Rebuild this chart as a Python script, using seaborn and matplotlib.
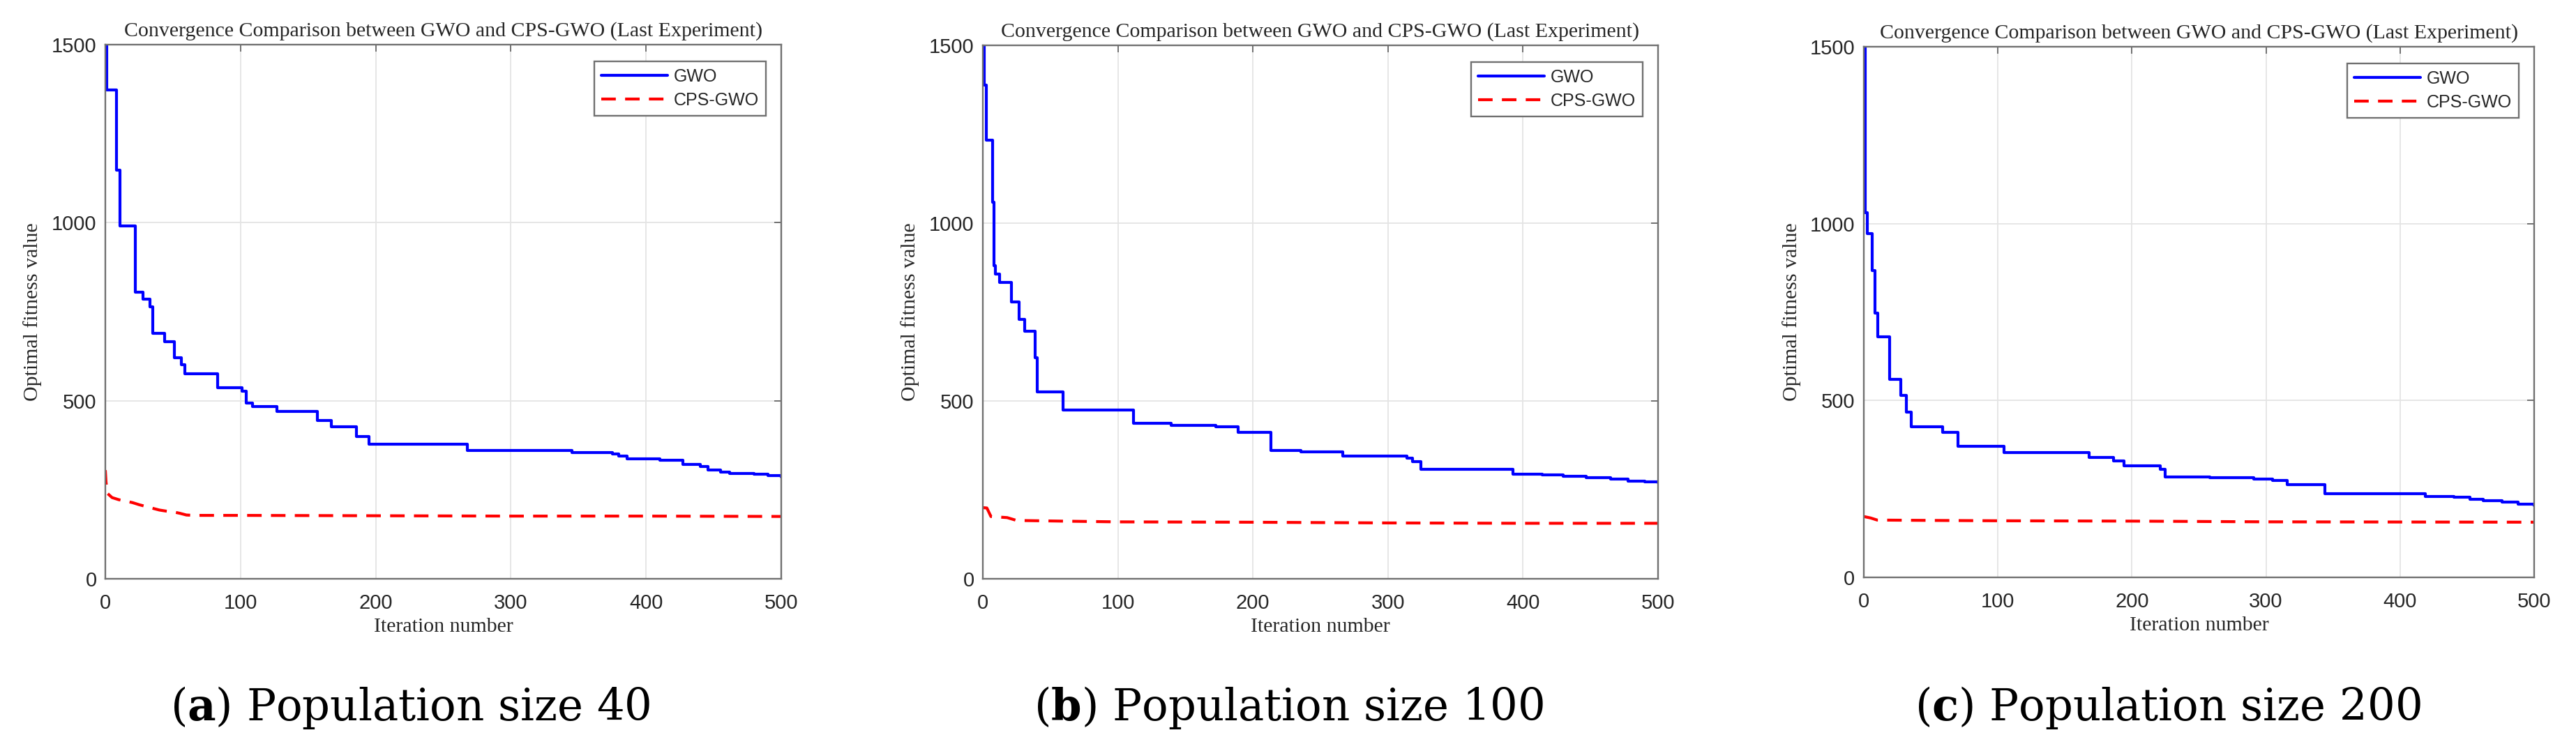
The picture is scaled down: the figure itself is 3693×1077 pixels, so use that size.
import numpy as np
import pandas as pd
import seaborn as sns
import matplotlib
matplotlib.use("Agg")
import matplotlib.pyplot as plt

sns.set_style("white")
plt.rcParams['font.family'] = ['Liberation Sans', 'DejaVu Sans']
plt.rcParams['mathtext.fontset'] = 'custom'
plt.rcParams['mathtext.rm'] = 'DejaVu Serif'
plt.rcParams['mathtext.bf'] = 'DejaVu Serif:bold'

# ---- data (breakpoints of the convergence curves) ----
gwo_40_x = [0, 1, 8, 11, 22, 28, 33, 35, 44, 51, 56, 59, 83, 101, 104, 109, 127, 157, 167, 186,
            195, 268, 345, 375, 380, 386, 410, 427, 440, 446, 455, 462, 480, 490, 500]
gwo_40_y = [1600, 1372, 1147, 990, 805, 786, 763, 689, 665, 620, 601, 576, 537, 526, 493, 483, 470, 444, 427, 400,
            378, 360, 355, 350, 345, 336, 333, 322, 316, 306, 300, 296, 293, 289, 286]
cps_40_x = [0, 0.5, 1.5, 5, 10, 15, 20, 25, 30, 35, 40, 45, 50, 55, 60, 66, 100, 200, 300, 400, 500]
cps_40_y = [305, 272, 240, 228, 222, 218, 214, 208, 203, 198, 193, 190, 188, 184, 179, 178, 178, 177, 176, 176, 175]

gwo_100_x = [0, 1, 2.5, 7, 8.5, 9.5, 12.5, 21, 27, 31, 38.5, 40.5, 59.5, 111.5, 139.5, 172.5, 189, 213.5,
             235.5, 266.5, 314, 318, 324.5, 392.5, 414, 430, 447, 465, 478, 490, 500]
gwo_100_y = [1600, 1389, 1233, 1059, 881, 856, 833, 779, 730, 696, 621, 526, 475, 438, 432, 428, 412, 361,
             356, 345, 340, 330, 308, 295, 292, 288, 285, 280, 274, 272, 270]
cps_100_x = [0, 3, 6, 18, 25, 60, 100, 200, 300, 400, 500]
cps_100_y = [200, 199, 175, 172, 164, 162, 160, 159, 157, 156, 156]

gwo_200_x = [0, 1, 2.6, 6.3, 8.5, 10.5, 19.3, 27.6, 31.8, 35.5, 59, 70, 104.5, 168, 186.5, 194, 221, 225,
             258, 291, 305, 316, 344, 419, 440, 452, 462, 476, 488, 500]
gwo_200_y = [1600, 1030, 971, 867, 748, 681, 560, 514, 467, 425, 410, 371, 353, 339, 330, 315, 305, 283,
             281, 278, 274, 263, 237, 228, 226, 220, 216, 212, 207, 203]
cps_200_x = [0, 5, 10, 50, 100, 200, 300, 500]
cps_200_y = [172, 168, 162, 161, 160, 159, 157, 156]

captions = ["a", "b", "c"]
pop_sizes = [40, 100, 200]
series = [(gwo_40_x, gwo_40_y, cps_40_x, cps_40_y),
          (gwo_100_x, gwo_100_y, cps_100_x, cps_100_y),
          (gwo_200_x, gwo_200_y, cps_200_x, cps_200_y)]

W, H = 3693, 1077
fig = plt.figure(figsize=(W / 100, H / 100), dpi=100)

# axes boxes in pixels: left, right, top, bottom
boxes = [(151, 1120, 64, 830), (1409, 2377, 65, 830), (2672, 3633, 67, 828)]
cap_x = [588, 1848, 3108]

spine_c = '#707070'
text_c = '#262626'

for i, (l, r, t, b) in enumerate(boxes):
    ax = fig.add_axes([l / W, 1 - b / H, (r - l) / W, (b - t) / H])
    gx, gy, cx, cy = series[i]
    df_g = pd.DataFrame({'it': gx, 'val': gy})
    df_c = pd.DataFrame({'it': cx, 'val': cy})
    sns.lineplot(data=df_g, x='it', y='val', ax=ax, color='#0000ff', linewidth=3.0,
                 drawstyle='steps-post', label='GWO', estimator=None)
    sns.lineplot(data=df_c, x='it', y='val', ax=ax, color='#ff0000', linewidth=3.0,
                 linestyle=(0, (5, 3.2)), dash_capstyle='butt', label='CPS-GWO', estimator=None)

    ax.set_xlim(0, 500)
    ax.set_ylim(0, 1500)
    ax.set_xticks([0, 100, 200, 300, 400, 500])
    ax.set_yticks([0, 500, 1000, 1500])
    ax.grid(True, color='#e4e4e4', linewidth=1.3)
    ax.set_axisbelow(True)
    for s in ax.spines.values():
        s.set_color(spine_c)
        s.set_linewidth(1.7)
    ax.tick_params(axis='both', direction='in', length=7, width=1.4, color=spine_c,
                   top=True, right=True, labelsize=21, labelcolor=text_c)
    ax.tick_params(axis='x', pad=15)
    ax.tick_params(axis='y', pad=9)

    ax.set_title('Convergence Comparison between GWO and CPS-GWO (Last Experiment)',
                 fontfamily='Liberation Serif', fontsize=21.5, color=text_c, pad=9)
    ax.set_xlabel('Iteration number', fontfamily='Liberation Serif', fontsize=21.5, color=text_c)
    ax.set_ylabel('Optimal fitness value', fontfamily='Liberation Serif', fontsize=21.5, color=text_c)
    ax.xaxis.set_label_coords(0.5, -(886 - 830) / 766)
    ax.yaxis.set_label_coords(-(151 - 60) / 970, 0.5)

    leg = ax.legend(loc='upper right', bbox_to_anchor=(1 - 22 / 970, 1 - 24 / 766),
                    borderaxespad=0, fontsize=18, handlelength=3.8, handletextpad=0.35,
                    borderpad=0.4, labelspacing=0.4, fancybox=False, framealpha=1)
    leg.get_frame().set_edgecolor(spine_c)
    leg.get_frame().set_linewidth(1.7)
    for txt in leg.get_texts():
        txt.set_color(text_c)

    fig.text(cap_x[i] / W, 1 - 1033 / H,
             r'($\mathbf{' + captions[i] + r'}$) Population size ' + str(pop_sizes[i]),
             fontfamily='DejaVu Serif', fontsize=45, ha='center', va='baseline', color='black')

fig.savefig('out.png', dpi=100)
